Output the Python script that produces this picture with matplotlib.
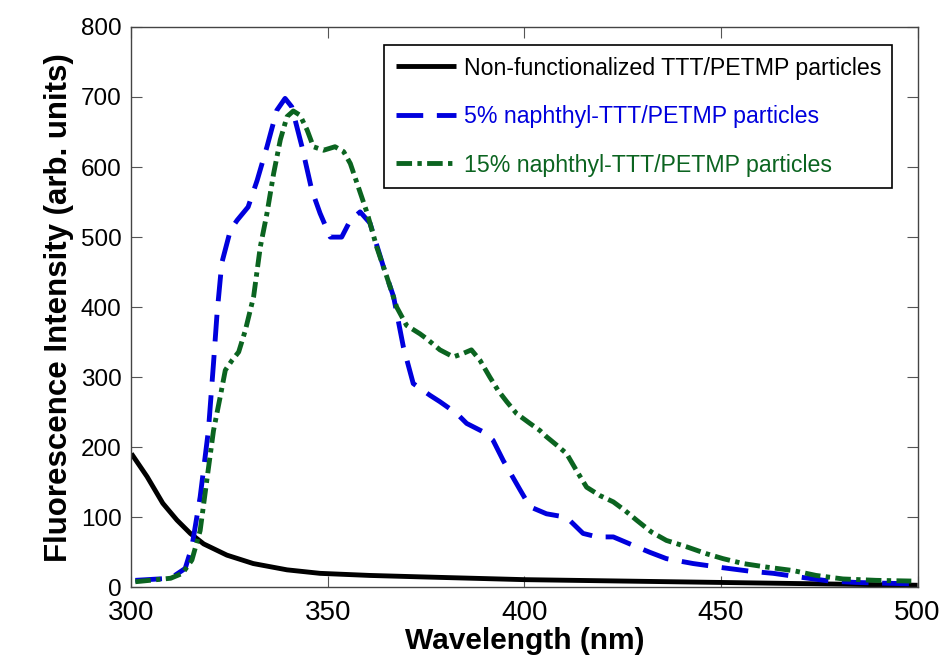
import matplotlib
matplotlib.use("Agg")
import matplotlib.pyplot as plt

# ── data ────────────────────────────────────────────────────────────────────

wl_plain = [300, 304, 308, 311.6, 315, 318.4, 324.3, 331, 339.6, 348, 360.7,
            373.4, 400, 425, 450, 475, 500]
val_plain = [191, 158, 120, 96, 77, 62, 46, 34, 25, 20, 17,
             15, 11, 9, 7, 5, 3]

wl_5 = [301, 310, 313.7, 315.4, 317.5, 319.6, 320.9, 321.8, 323, 325.2,
        326.9, 329.7, 332, 334.5, 337, 339.1, 340.8, 343.4, 345.9, 348,
        350.6, 353.5, 355.7, 358.2, 360.7, 364.1, 366.7, 369.2, 371.7, 376,
        378.5, 382.8, 385.3, 389.5, 392, 394.6, 398.9, 401.4, 405.6, 410.7,
        414.9, 418.5, 422.6, 426.8, 431.9, 436.1, 442.9, 450.5, 457.4, 463.3,
        470.9, 477.6, 484.4, 491.1, 498.8]
val_5 = [10, 13, 27, 58, 129, 224, 320, 391, 463, 510,
         524, 543, 581, 629, 681, 698, 686, 629, 567, 534,
         500, 500, 524, 536, 520, 458, 415, 343, 291, 274,
         265, 248, 234, 222, 210, 181, 139, 115, 105, 100,
         77, 72, 72, 62, 50, 41, 34, 28, 23, 20,
         14, 9, 7, 6, 5]

wl_15 = [301, 310, 313, 315.4, 317.5, 319.2, 320.9, 322.6, 323.9, 325.6,
         327.3, 329, 331.1, 332.8, 334.5, 336.2, 337.9, 339.6, 341.2, 342.9,
         344.7, 346.3, 348.9, 351.8, 354, 355.7, 357.4, 360, 362.4, 365,
         367.5, 370, 373.4, 375.1, 378.5, 381.9, 384, 386.5, 388.7, 391.2,
         393.3, 395.5, 398, 401.4, 403.9, 405.6, 408.2, 410.7, 413.2, 415.8,
         419.2, 422.6, 425.5, 428.5, 432.3, 436.1, 441.2, 446.3, 450.5, 455.6,
         461.5, 468.3, 474.2, 481, 489.5, 498.4]
val_15 = [8, 13, 20, 39, 81, 153, 224, 272, 310, 324,
          336, 367, 415, 486, 534, 591, 639, 672, 680, 674,
          653, 629, 624, 629, 622, 605, 577, 534, 486, 443,
          400, 374, 362, 355, 339, 329, 333, 339, 324, 300,
          281, 265, 248, 234, 224, 215, 203, 191, 167, 143,
          131, 122, 110, 96, 79, 67, 58, 48, 41, 34,
          29, 24, 17, 12, 10, 9]

labels = ["Non-functionalized TTT/PETMP particles",
          "5% naphthyl-TTT/PETMP particles",
          "15% naphthyl-TTT/PETMP particles"]

x_ticks = [300, 350, 400, 450, 500]
y_ticks = [0, 100, 200, 300, 400, 500, 600, 700, 800]

BLUE = "#0000dd"
GREEN = "#0b6420"
SANS = ["Liberation Sans", "DejaVu Sans"]

# ── plot ────────────────────────────────────────────────────────────────────

fig = plt.figure(figsize=(9.45, 6.57), dpi=100)
ax = fig.add_axes([0.139, 0.106, 0.832, 0.853])

ax.plot(wl_plain, val_plain, color="black", lw=3.5, solid_capstyle="butt",
        label=labels[0])
ax.plot(wl_5, val_5, color=BLUE, lw=3.5, dashes=(5.5, 2.8),
        label=labels[1])
ax.plot(wl_15, val_15, color=GREEN, lw=3.5, dashes=(3.2, 1.1, 0.9, 1.1),
        label=labels[2])

ax.set_xlim(300, 500)
ax.set_ylim(0, 800)
ax.set_xticks(x_ticks)
ax.set_yticks(y_ticks)
ax.tick_params(direction="in", top=True, right=True, length=8,
               width=0.8, color="#555555")
ax.tick_params(axis="x", pad=9)
ax.tick_params(axis="y", pad=7)
for t in ax.get_xticklabels():
    t.set_family(SANS)
    t.set_fontsize(20)
for t in ax.get_yticklabels():
    t.set_family(SANS)
    t.set_fontsize(17.5)
for s in ax.spines.values():
    s.set_linewidth(1.0)
    s.set_color("#444444")

ax.set_xlabel("Wavelength (nm)", family=SANS, fontsize=21.5,
              fontweight="bold", labelpad=1)
ax.set_ylabel("Fluorescence Intensity (arb. units)", family=SANS,
              fontsize=22.5, fontweight="bold", labelpad=5)

leg = ax.legend(loc="upper right", bbox_to_anchor=(0.968, 0.967),
                prop={"family": SANS, "size": 16.7}, fancybox=False,
                framealpha=1, edgecolor="black", handlelength=2.6,
                handletextpad=0.35, labelspacing=1.1, borderpad=0.48,
                borderaxespad=0)
leg.get_frame().set_linewidth(1.2)
for txt, col in zip(leg.get_texts(), ["black", BLUE, GREEN]):
    txt.set_color(col)

fig.savefig("out.png", dpi=100)
